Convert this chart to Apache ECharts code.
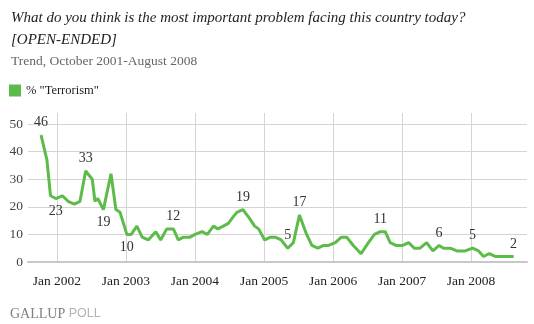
<!DOCTYPE html>
<html>
<head>
<meta charset="utf-8">
<script src="https://cdn.jsdelivr.net/npm/echarts@6/dist/echarts.min.js"></script>
<style>
html,body{margin:0;padding:0;background:#fff;}
#chart{width:534px;height:324px;}
</style>
</head>
<body>
<div id="chart"></div>
<script>
// Survey dates (approximate)
const dates = [
  '2001-10-09','2001-11-09','2001-11-28','2001-12-26','2002-01-30','2002-03-01','2002-04-03','2002-05-03',
  '2002-06-02','2002-07-07','2002-07-21','2002-08-05','2002-09-04','2002-10-14','2002-11-09','2002-12-01',
  '2003-01-06','2003-01-29','2003-02-28','2003-03-28','2003-04-29','2003-06-08','2003-07-04','2003-08-05',
  '2003-09-09','2003-10-05','2003-11-02','2003-12-06','2004-01-02','2004-02-08','2004-03-07','2004-04-08',
  '2004-05-01','2004-05-30','2004-06-26','2004-07-17','2004-08-10','2004-09-11','2004-10-14','2004-11-12',
  '2004-12-03','2005-01-04','2005-02-04','2005-03-01','2005-04-01','2005-05-06','2005-06-05','2005-07-07',
  '2005-08-14','2005-09-11','2005-10-12','2005-11-12','2005-12-08','2006-01-13','2006-02-14','2006-03-14',
  '2006-04-18','2006-05-29','2006-07-07','2006-08-08','2006-09-08','2006-10-04','2006-10-30','2006-11-30',
  '2007-01-04','2007-02-05','2007-03-07','2007-04-06','2007-05-11','2007-06-13','2007-07-16','2007-08-08',
  '2007-09-13','2007-10-18','2007-12-01','2008-01-09','2008-02-10','2008-03-07','2008-04-06','2008-05-08',
  '2008-06-08','2008-07-08','2008-08-13'
];
// % "Terrorism"
const terrorism = [
  46,37,24,23,24,22,21,22,
  33,30,22,23,19,32,19,18,
  10,10,13,9,8,11,8,12,
  12,8,9,9,10,11,10,13,
  12,13,14,16,18,19,16,13,
  12,8,9,9,8,5,7,17,
  10,6,5,6,6,7,9,9,
  6,3,7,10,11,11,7,6,
  6,7,5,5,7,4,6,5,
  5,4,4,5,4,2,3,2,
  2,2,2
];
// Which points carry a value label, and where
const labelIndex = [0, 3, 8, 12, 16, 24, 37, 45, 47, 60, 70, 75, 82];
const labelSide  = ['top','bottom','top','bottom','bottom','top','top','top','top','top','top','top','top'];

const yTicks = [0, 10, 20, 30, 40, 50];
const xTickDates = ['2002-01-01','2003-01-01','2004-01-01','2005-01-01','2006-01-01','2007-01-01','2008-01-01'];
const xTickLabels = ['Jan 2002','Jan 2003','Jan 2004','Jan 2005','Jan 2006','Jan 2007','Jan 2008'];
const xMinDate = '2001-08-01';
const xMaxDate = '2008-10-23';

const seriesName = '% "Terrorism"';
const titleText = 'What do you think is the most important problem facing this country today?\n[OPEN-ENDED]';
const subtitleText = 'Trend, October 2001-August 2008';

const green = '#5dbb4a';
const serif = '"Liberation Serif", "DejaVu Serif", serif';

const toTime = d => Date.UTC(+d.slice(0, 4), +d.slice(5, 7) - 1, +d.slice(8, 10));
const xTickTimes = xTickDates.map(toTime);

const seriesData = dates.map((d, i) => {
  const item = { value: [toTime(d), terrorism[i]] };
  const k = labelIndex.indexOf(i);
  if (k >= 0) {
    item.symbol = 'circle';
    item.symbolSize = 1;
    item.label = { show: true, position: labelSide[k] };
  }
  return item;
});

const chart = echarts.init(document.getElementById('chart'), null, { renderer: 'canvas' });
chart.setOption({
  animation: false,
  backgroundColor: '#fff',
  title: [
    {
      text: titleText,
      left: 6, top: 2,
      textStyle: { fontFamily: serif, fontStyle: 'italic', fontWeight: 'normal', fontSize: 15, lineHeight: 22, color: '#222' }
    },
    {
      text: subtitleText,
      left: 6, top: 49,
      textStyle: { fontFamily: serif, fontWeight: 'normal', fontSize: 13.5, color: '#666' }
    },
    {
      text: '{a|GALLUP}{b| POLL}',
      left: 5, top: 302,
      textStyle: {
        fontWeight: 'normal',
        rich: {
          a: { fontFamily: serif, fontWeight: 'normal', fontSize: 14, color: '#808080' },
          b: { fontFamily: '"Liberation Sans", Arial, sans-serif', fontWeight: 'normal', fontSize: 12.5, color: '#b3b3b3' }
        }
      }
    }
  ],
  legend: {
    left: 4, top: 79,
    icon: 'rect',
    itemWidth: 12, itemHeight: 12,
    itemGap: 8,
    textStyle: { fontFamily: serif, fontSize: 12.5, color: '#222' },
    data: [seriesName]
  },
  grid: { left: 28, right: 7, top: 113, bottom: 62 },
  xAxis: {
    type: 'value',
    min: toTime(xMinDate),
    max: toTime(xMaxDate),
    axisLine: { show: true, lineStyle: { color: '#c8c8c8', width: 2 } },
    axisTick: { show: false, customValues: xTickTimes },
    splitLine: { show: true, lineStyle: { color: '#d4d4d4', width: 1 } },
    axisLabel: {
      customValues: xTickTimes,
      formatter: function (v) {
        const i = xTickTimes.indexOf(v);
        return i >= 0 ? xTickLabels[i] : '';
      },
      margin: 12,
      fontFamily: serif, fontSize: 13.5, color: '#222'
    }
  },
  yAxis: {
    type: 'value',
    min: 0, max: 54,
    axisLine: { show: false },
    axisTick: { show: false, customValues: yTicks },
    splitLine: { show: true, lineStyle: { color: '#d4d4d4', width: 1 } },
    axisLabel: {
      customValues: yTicks,
      margin: 5,
      fontFamily: serif, fontSize: 13.5, color: '#444'
    }
  },
  series: [{
    name: seriesName,
    type: 'line',
    data: seriesData,
    symbol: 'none',
    showAllSymbol: true,
    color: green,
    itemStyle: { color: green },
    lineStyle: { color: green, width: 3 },
    label: { show: false, fontFamily: serif, fontSize: 14, color: '#333', distance: 5 },
    emphasis: { disabled: true }
  }]
});
</script>
</body>
</html>
